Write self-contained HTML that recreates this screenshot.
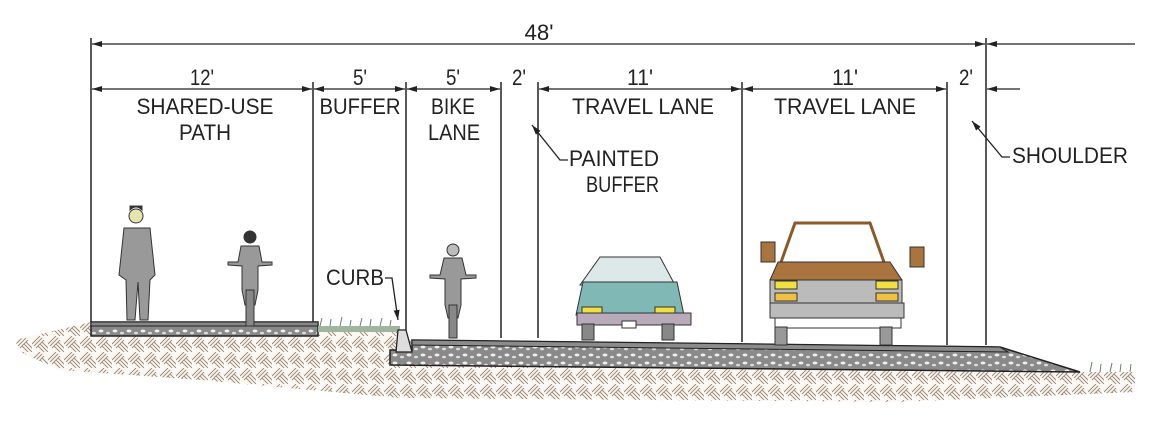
<!DOCTYPE html>
<html><head><style>
html,body{margin:0;padding:0;background:#fff;}
svg{display:block;}
text{font-family:"Liberation Sans",Arial,sans-serif;fill:#222;}
</style></head><body>
<svg width="1170" height="421" viewBox="0 0 1170 421" xmlns="http://www.w3.org/2000/svg">
<defs>
<pattern id="hatch" width="16" height="16" patternUnits="userSpaceOnUse">
<rect width="16" height="16" fill="#fbf8f4"/>
<path d="M0 8 L8 0 M2 10 L10 2 M4 12 L12 4 M8 8 L16 16 M10 6 L16 12 M6 10 L12 16" stroke="#a08c7c" stroke-width="1"/>
</pattern>
<pattern id="grav" width="14" height="8" patternUnits="userSpaceOnUse">
<rect width="14" height="8" fill="#8a8a8a"/>
<ellipse cx="3" cy="3" rx="2.5" ry="1.5" fill="#eee"/>
<ellipse cx="10" cy="5" rx="2" ry="1.3" fill="#ddd"/>
</pattern>
<marker id="ar" viewBox="0 0 10 6" refX="10" refY="3" markerWidth="10" markerHeight="6" orient="auto-start-reverse" markerUnits="userSpaceOnUse"><path d="M0 0 L10 3 L0 6 Z" fill="#222"/></marker>
</defs>
<!-- soil -->
<path d="M15 340 L91 322 L320 322 L320 330 L400 330 L400 340 L1080 372 L1135 372 L1135 392 L900 402 L400 398 L200 380 L60 370 L20 352 Z" fill="url(#hatch)"/>
<rect x="91" y="322" width="227" height="14" fill="url(#grav)" stroke="#222" stroke-width="1.5"/>
<rect x="91" y="322" width="227" height="4" fill="#888" stroke="#222" stroke-width="1"/>
<rect x="318" y="326" width="82" height="6" fill="#9fb5a0"/>
<path d="M320 326 l2 -8 M330 326 l1 -7 M340 326 l2 -9 M350 326 l1 -6 M360 326 l2 -8 M370 326 l1 -7 M380 326 l2 -8 M390 326 l1 -6 M1090 372 l2 -10 M1100 372 l1 -8 M1110 372 l2 -9 M1120 372 l1 -8 M1130 372 l1 -8" stroke="#6b7d68" stroke-width="1"/>
<path d="M390 350 L412 350 L412 340 L1000 347 L1080 372 L390 365 Z" fill="url(#grav)" stroke="#222" stroke-width="1.5"/>
<path d="M412 340 L1000 347 L1008 352 L412 345 Z" fill="#8c8c8c" stroke="#222" stroke-width="1"/>
<path d="M398 330 L406 330 L412 352 L396 352 Z" fill="#ddd" stroke="#222" stroke-width="1.3"/>
<g stroke="#222" stroke-width="1.5">
<line x1="91" y1="38" x2="91" y2="322"/>
<line x1="313" y1="82" x2="313" y2="322"/>
<line x1="406" y1="82" x2="406" y2="330"/>
<line x1="501" y1="82" x2="501" y2="338"/>
<line x1="538" y1="82" x2="538" y2="338"/>
<line x1="742" y1="82" x2="742" y2="342"/>
<line x1="947" y1="82" x2="947" y2="345"/>
<line x1="986" y1="38" x2="986" y2="345"/>
</g>
<g stroke="#222" stroke-width="1.3" fill="none">
<line x1="92" y1="44" x2="985" y2="44" marker-start="url(#ar)" marker-end="url(#ar)"/>
<line x1="987" y1="44" x2="1135" y2="44" marker-start="url(#ar)"/>
<line x1="92" y1="89" x2="312" y2="89" marker-start="url(#ar)" marker-end="url(#ar)"/>
<line x1="314" y1="89" x2="405" y2="89" marker-start="url(#ar)" marker-end="url(#ar)"/>
<line x1="407" y1="89" x2="500" y2="89" marker-start="url(#ar)" marker-end="url(#ar)"/>
<line x1="539" y1="89" x2="741" y2="89" marker-start="url(#ar)" marker-end="url(#ar)"/>
<line x1="743" y1="89" x2="946" y2="89" marker-start="url(#ar)" marker-end="url(#ar)"/>
<line x1="987" y1="89" x2="1020" y2="89" marker-start="url(#ar)"/>
<polyline points="568,160 560,160 532,125" marker-end="url(#ar)"/>
<polyline points="1010,157 1002,157 972,121" marker-end="url(#ar)"/>
<polyline points="385,278 392,278 398,320" marker-end="url(#ar)"/>
</g>
<g font-size="22" text-anchor="middle" lengthAdjust="spacingAndGlyphs">
<text x="539" y="40" textLength="29" lengthAdjust="spacingAndGlyphs">48'</text>
<text x="202" y="85" textLength="24" lengthAdjust="spacingAndGlyphs">12'</text>
<text x="360" y="85" textLength="14" lengthAdjust="spacingAndGlyphs">5'</text>
<text x="453" y="85" textLength="14" lengthAdjust="spacingAndGlyphs">5'</text>
<text x="519" y="85" textLength="14" lengthAdjust="spacingAndGlyphs">2'</text>
<text x="640" y="85" textLength="26" lengthAdjust="spacingAndGlyphs">11'</text>
<text x="845" y="85" textLength="26" lengthAdjust="spacingAndGlyphs">11'</text>
<text x="966" y="85" textLength="14" lengthAdjust="spacingAndGlyphs">2'</text>
<text x="205" y="114" textLength="137" lengthAdjust="spacingAndGlyphs">SHARED-USE</text>
<text x="205" y="140" textLength="52" lengthAdjust="spacingAndGlyphs">PATH</text>
<text x="360" y="114" textLength="81" lengthAdjust="spacingAndGlyphs">BUFFER</text>
<text x="453" y="114" textLength="44" lengthAdjust="spacingAndGlyphs">BIKE</text>
<text x="454" y="140" textLength="52" lengthAdjust="spacingAndGlyphs">LANE</text>
<text x="643" y="114" textLength="142" lengthAdjust="spacingAndGlyphs">TRAVEL LANE</text>
<text x="845" y="114" textLength="142" lengthAdjust="spacingAndGlyphs">TRAVEL LANE</text>
</g>
<g font-size="22">
<text x="569" y="166" textLength="90" lengthAdjust="spacingAndGlyphs">PAINTED</text>
<text x="586" y="192" textLength="73" lengthAdjust="spacingAndGlyphs">BUFFER</text>
<text x="1012" y="163" textLength="116" lengthAdjust="spacingAndGlyphs">SHOULDER</text>
<text x="326" y="285" textLength="58" lengthAdjust="spacingAndGlyphs">CURB</text>
</g>
<g fill="#999" stroke="#333" stroke-width="1">
<circle cx="136" cy="216" r="7" fill="#e8e4b0"/>
<path d="M130 210 q6 -6 12 0 l0 -4 l-12 0 Z" fill="#333"/>
<path d="M124 228 L150 228 L155 275 L150 280 L148 320 L140 320 L138 282 L135 320 L127 320 L126 280 L119 275 Z"/>
</g>
<g fill="#999" stroke="#333" stroke-width="1">
<circle cx="250" cy="237" r="6" fill="#333"/>
<path d="M241 246 L259 246 L262 262 L272 262 L272 265 L258 266 L258 290 L255 305 L245 305 L242 290 L242 266 L228 265 L228 262 L238 262 Z"/>
<rect x="246" y="290" width="8" height="36" fill="#888"/>
</g>
<g fill="#999" stroke="#333" stroke-width="1">
<circle cx="453" cy="250" r="6" fill="#bbb"/>
<path d="M444 258 L462 258 L466 275 L476 275 L476 278 L461 279 L461 305 L458 318 L448 318 L445 305 L445 279 L430 278 L430 275 L440 275 Z"/>
<rect x="449" y="305" width="8" height="33" fill="#888"/>
</g>
<g stroke="#333" stroke-width="1">
<path d="M600 257 L660 257 L675 285 L580 285 Z" fill="#dde8e8"/>
<path d="M583 282 L677 282 L684 315 L576 315 Z" fill="#7fb8b4"/>
<rect x="577" y="313" width="114" height="12" fill="#b8aab8"/>
<rect x="582" y="307" width="20" height="6" fill="#f0e040"/>
<rect x="655" y="307" width="20" height="6" fill="#f0e040"/>
<rect x="582" y="324" width="12" height="16" fill="#888"/>
<rect x="662" y="324" width="12" height="16" fill="#888"/>
<rect x="622" y="321" width="14" height="7" fill="#fff"/>
</g>
<g stroke="#333" stroke-width="1">
<path d="M795 223 L870 223 L885 265 L780 265 Z" fill="#fff" stroke="#8b5a2b" stroke-width="3"/>
<path d="M778 262 L890 262 L902 280 L902 300 L770 300 L770 280 Z" fill="#a9743e"/>
<rect x="761" y="242" width="14" height="20" fill="#a9743e"/>
<rect x="910" y="247" width="14" height="20" fill="#a9743e"/>
<rect x="770" y="280" width="132" height="23" fill="#bbb"/>
<rect x="775" y="281" width="22" height="8" fill="#f0e040"/>
<rect x="876" y="281" width="22" height="8" fill="#f0e040"/>
<rect x="775" y="293" width="22" height="8" fill="#f0c040"/>
<rect x="876" y="293" width="22" height="8" fill="#f0c040"/>
<rect x="770" y="303" width="134" height="15" fill="#bbb"/>
<rect x="775" y="318" width="126" height="10" fill="#fff"/>
<rect x="775" y="327" width="12" height="18" fill="#999"/>
<rect x="880" y="327" width="12" height="18" fill="#999"/>
</g>
</svg>
</body></html>
